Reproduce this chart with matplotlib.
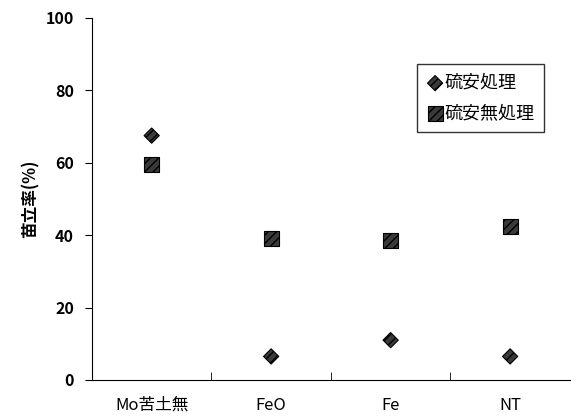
import numpy as np
import matplotlib
matplotlib.use('Agg')
import matplotlib.pyplot as plt

plt.rcParams['font.family'] = ['Noto Sans CJK JP', 'DejaVu Sans']

# %% data
categories = ['Mo苦土無', 'FeO', 'Fe', 'NT']
treated = [67.5, 6.5, 11.0, 6.5]        # 硫安処理
untreated = [59.5, 39.0, 38.5, 42.5]    # 硫安無処理
label_treated = '硫安処理'
label_untreated = '硫安無処理'

# %% plot
fig = plt.figure(figsize=(5.71, 4.18), dpi=100)
ax = fig.add_axes([0.161, 0.091, 0.837, 0.866])

X = np.arange(len(categories))
ax.scatter(X, treated, marker='D', s=60, color='#3a3a3a', edgecolor='black',
           linewidth=0.8, hatch='////', label=label_treated, zorder=3)
ax.scatter(X, untreated, marker='s', s=115, color='#3a3a3a', edgecolor='black',
           linewidth=0.8, hatch='////', label=label_untreated, zorder=3)

ax.set_xlim(-0.5, len(categories) - 0.5)
ax.set_ylim(0, 100)
ax.set_yticks([0, 20, 40, 60, 80, 100])
ax.set_xticks(X)
ax.set_xticklabels(categories, fontsize=12)
ax.set_xticks(np.arange(0.5, len(categories) - 0.5, 1), minor=True)
ax.tick_params(axis='x', which='major', length=0, pad=12)
ax.tick_params(axis='x', which='minor', length=6, direction='in', bottom=True)
ax.tick_params(axis='y', length=5, labelsize=11.5, pad=8)
for t in ax.get_yticklabels():
    t.set_fontweight('bold')

ax.spines['top'].set_visible(False)
ax.spines['right'].set_visible(False)
ax.set_ylabel('苗立率(%)', fontsize=12, fontweight='bold', labelpad=4)

leg = ax.legend(loc='upper right', bbox_to_anchor=(0.946, 0.873), fontsize=13,
                frameon=True, fancybox=False, edgecolor='black',
                handletextpad=0.05, handlelength=0.9, borderpad=0.55,
                labelspacing=0.7, borderaxespad=0, scatterpoints=1)
leg.get_frame().set_linewidth(1.0)

plt.savefig('out.png', dpi=100)
